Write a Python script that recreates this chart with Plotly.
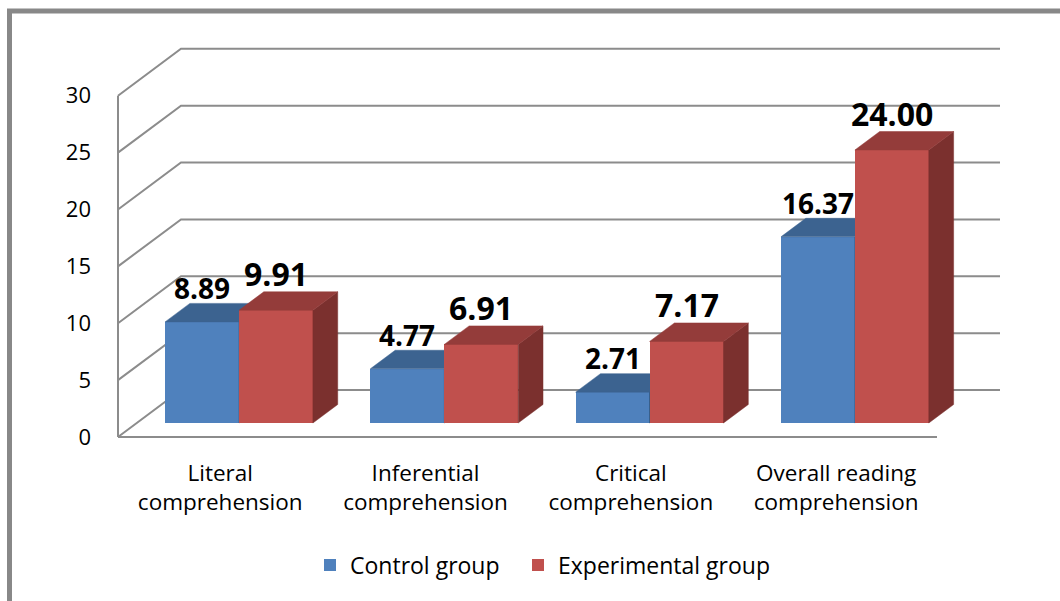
import plotly.graph_objects as go

# ---------------- data ----------------
categories = ["Literal<br>comprehension", "Inferential<br>comprehension",
              "Critical<br>comprehension", "Overall reading<br>comprehension"]
control = [8.89, 4.77, 2.71, 16.37]
experimental = [9.91, 6.91, 7.17, 24.00]
series_names = ["Control group", "Experimental group"]
y_ticks = [0, 5, 10, 15, 20, 25, 30]

# ---------------- styles / geometry ----------------
BLUE = dict(front="#4F81BD", top="#3C6390", side="#2F4F75")
RED = dict(front="#C0504D", top="#943C3A", side="#7B302E")
GRID = "#8C8C8C"
FONT = "Open Sans"

FIG_W, FIG_H = 1060, 601
GROUP_PX = 205.3          # px between category centres
UNIT_PX = 11.375          # px per value unit
ORIGIN_PX = (239, 423)    # px of (first category centre, value 0) on the bar front plane
PLOT_L, PLOT_R, PLOT_T, PLOT_B = 110, 1006, 24, 443
AXIS_PX, RIGHT_PX = 118, 1000
WALL_PX = (63, 47)        # depth of the 3-D floor / walls in px
FRONT_FRAC = 14 / 47      # bar front plane depth fraction
BAR_FRAC = 18.5 / 47      # bar depth fraction
BAR_W = 0.36
LEGEND_PX = [310, 518]    # left edge of each legend entry


def px2x(px):
    return (px - ORIGIN_PX[0]) / GROUP_PX


def py2y(py):
    return (ORIGIN_PX[1] - py) / UNIT_PX


x_range = [px2x(PLOT_L), px2x(PLOT_R)]
y_range = [py2y(PLOT_B), py2y(PLOT_T)]
WDX, WDY = WALL_PX[0] / GROUP_PX, WALL_PX[1] / UNIT_PX
FX, FY = -FRONT_FRAC * WDX, -FRONT_FRAC * WDY      # front-plane offset
BDX, BDY = BAR_FRAC * WDX, BAR_FRAC * WDY          # bar depth
AXIS_X, RIGHT_X = px2x(AXIS_PX), px2x(RIGHT_PX)

fig = go.Figure()


def faces(values, offset):
    tops_x, tops_y, side_x, side_y = [], [], [], []
    for i, v in enumerate(values):
        xl = i + offset - BAR_W / 2
        xr = xl + BAR_W
        tops_x += [xl, xr, xr + BDX, xl + BDX, xl, None]
        tops_y += [v, v, v + BDY, v + BDY, v, None]
        side_x += [xr, xr + BDX, xr + BDX, xr, xr, None]
        side_y += [0, BDY, v + BDY, v, 0, None]
    return tops_x, tops_y, side_x, side_y


for values, name, col, offset, xa, ya, lg in [
        (control, series_names[0], BLUE, -BAR_W / 2, "x", "y", "legend"),
        (experimental, series_names[1], RED, BAR_W / 2, "x2", "y2", "legend2")]:
    fig.add_trace(go.Bar(x=[i + offset for i in range(len(values))], y=values,
                         width=BAR_W, name=name, marker=dict(color=col["front"], line=dict(width=0)),
                         xaxis=xa, yaxis=ya, hoverinfo="skip", legend=lg))
    tx, ty, sx, sy = faces(values, offset)
    fig.add_trace(go.Scatter(x=sx, y=sy, fill="toself", fillcolor=col["side"], mode="lines",
                             line=dict(width=0.5, color=col["side"]), showlegend=False,
                             xaxis=xa, yaxis=ya, hoverinfo="skip"))
    fig.add_trace(go.Scatter(x=tx, y=ty, fill="toself", fillcolor=col["top"], mode="lines",
                             line=dict(width=0.5, color=col["top"]), showlegend=False,
                             xaxis=xa, yaxis=ya, hoverinfo="skip"))

# front value axis line (drawn on the front-plane axis y3)
fig.add_trace(go.Scatter(x=[AXIS_X, AXIS_X], y=[y_ticks[0], y_ticks[-1]], mode="lines",
                         line=dict(color=GRID, width=2), showlegend=False,
                         xaxis="x", yaxis="y3", hoverinfo="skip"))

# walls / gridlines
shapes = []
for t in y_ticks:
    shapes.append(dict(type="path", xref="x", yref="y", layer="below",
                       path=f"M{AXIS_X},{FY + t} L{AXIS_X + WDX},{FY + t + WDY} L{RIGHT_X},{FY + t + WDY}",
                       line=dict(color=GRID, width=2)))
shapes.append(dict(type="line", xref="x", yref="y", layer="below",
                   x0=AXIS_X, y0=FY, x1=RIGHT_X - WDX, y1=FY, line=dict(color=GRID, width=2)))
# outer chart border
shapes.append(dict(type="rect", xref="paper", yref="paper", x0=9.5 / FIG_W, x1=1.05,
                   y0=-0.05, y1=1 - 11 / FIG_H, line=dict(color="#888888", width=5)))

annotations = []
for vals, offset, size in [(control, -BAR_W / 2, 28), (experimental, BAR_W / 2, 32)]:
    for i, v in enumerate(vals):
        annotations.append(dict(x=i + offset, y=v, xref="x", yref="y", text=f"{v:.2f}",
                                showarrow=False, yanchor="bottom", yshift=13,
                                font=dict(family=FONT, size=size, color="black", weight="bold")))

dom_x = [PLOT_L / FIG_W, PLOT_R / FIG_W]
dom_y = [(FIG_H - PLOT_B) / FIG_H, (FIG_H - PLOT_T) / FIG_H]
legend_style = dict(orientation="h", xanchor="left", y=1 - 565 / FIG_H, yanchor="middle",
                    font=dict(family=FONT, size=23, color="black"), bgcolor="rgba(0,0,0,0)")

fig.update_layout(
    width=FIG_W, height=FIG_H, margin=dict(l=0, r=0, t=0, b=0),
    paper_bgcolor="white", plot_bgcolor="rgba(0,0,0,0)",
    showlegend=True,
    legend=dict(x=LEGEND_PX[0] / FIG_W, **legend_style),
    legend2=dict(x=LEGEND_PX[1] / FIG_W, **legend_style),
    xaxis=dict(domain=dom_x, range=x_range, showgrid=False, zeroline=False, showline=False,
               tickvals=[i + FX for i in range(len(categories))], ticktext=categories, ticks="",
               ticklabelstandoff=14,
               tickfont=dict(family=FONT, size=22.5, color="black"), automargin=False),
    yaxis=dict(domain=dom_y, range=y_range, visible=False, automargin=False),
    xaxis2=dict(domain=dom_x, range=x_range, overlaying="x", anchor="y2", visible=False),
    yaxis2=dict(domain=dom_y, range=y_range, overlaying="y", anchor="x2", visible=False),
    yaxis3=dict(domain=dom_y, range=[y_range[0] - FY, y_range[1] - FY], overlaying="y", anchor="x",
                tickvals=y_ticks, showgrid=False, zeroline=False, showline=False, ticks="",
                ticklabelstandoff=18, tickfont=dict(family=FONT, size=22, color="black"),
                automargin=False),
    shapes=shapes, annotations=annotations, bargap=0,
)

fig.write_html("out.html", config={"displayModeBar": False},
               post_script="document.body.style.margin='0';document.body.style.overflow='hidden';")
